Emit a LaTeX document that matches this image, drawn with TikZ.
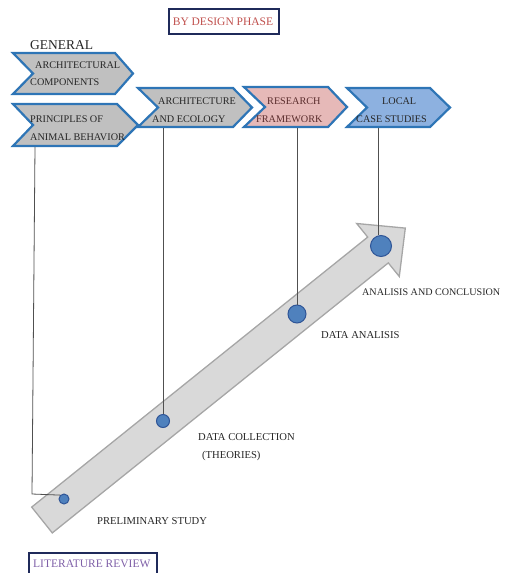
\documentclass[tikz,border=0pt]{standalone}
\usepackage{fontspec}
\setmainfont{Liberation Serif}
\definecolor{chevblue}{HTML}{2E75B6}
\definecolor{chevgray}{HTML}{C0C0C0}
\definecolor{chevpink}{HTML}{E6B9B8}
\definecolor{chevlblue}{HTML}{8DB1E0}
\definecolor{arrfill}{HTML}{D9D9D9}
\definecolor{arredge}{HTML}{A6A6A6}
\definecolor{dotblue}{HTML}{4F81BD}
\definecolor{dotedge}{HTML}{2F5597}
\definecolor{linegray}{HTML}{505050}
\definecolor{txt}{HTML}{262626}
\definecolor{navy}{HTML}{1F2A5A}
\definecolor{titlered}{HTML}{C0504D}
\definecolor{litpurple}{HTML}{7F60A8}
\definecolor{resred}{HTML}{5A2C2C}
\begin{document}
\begin{tikzpicture}[x=1pt,y=-1pt,
  chev/.style={draw=chevblue, line width=2.2pt, line join=miter},
  lbl/.style={font=\fontsize{10.2}{12}\selectfont, text=txt, inner sep=0pt, anchor=west},
  stage/.style={font=\fontsize{10.6}{12}\selectfont, text=txt, inner sep=0pt, anchor=west},
  dotnode/.style={circle, fill=dotblue, draw=dotedge, line width=1pt, inner sep=0pt},
  conn/.style={draw=linegray, line width=0.8pt},
  titlebox/.style={draw=navy, line width=1.8pt, inner sep=0pt},
  boxtext/.style={font=\fontsize{11.5}{13}\selectfont, inner sep=0pt}
]
\useasboundingbox (0,0) rectangle (505,573);
\clip (0,0) rectangle (505,573);

% big arrow
\draw[fill=arrfill, draw=arredge, line width=1.3pt, line join=miter]
  (31.7,507.1) -- (367.7,237.1) -- (356.7,223.5) -- (405.3,228.1)
  -- (399.3,276.5) -- (388.3,262.9) -- (52.3,532.9) -- cycle;

% title boxes
\draw[titlebox] (169,9) rectangle (279,34);
\node[boxtext, text=titlered] (title) at (223,22) {BY DESIGN PHASE};
\draw[titlebox] (29,553) rectangle (157,580);
\node[boxtext, text=litpurple, anchor=west] (lit) at (33,564) {LITERATURE REVIEW};

% GENERAL
\node[font=\fontsize{13.5}{15}\selectfont, text=txt, inner sep=0pt, anchor=west] (general) at (30,45) {GENERAL};

% chevrons
\draw[chev, fill=chevgray] (138,88) -- (233,88) -- (252,107.5) -- (233,127) -- (138,127) -- (158,107.5) -- cycle;
\draw[chev, fill=chevpink] (244,87) -- (328,87) -- (347,107) -- (328,127) -- (244,127) -- (265,107) -- cycle;
\draw[chev, fill=chevlblue] (347,88) -- (430,88) -- (450,107.5) -- (430,127) -- (347,127) -- (367,107.5) -- cycle;
\draw[chev, fill=chevgray] (13,53) -- (115,53) -- (133,73.5) -- (115,94) -- (13,94) -- (33,73.5) -- cycle;
\draw[chev, fill=chevgray] (13,104) -- (117,104) -- (138,125) -- (117,146) -- (13,146) -- (33,125) -- cycle;

% chevron texts
\node[lbl] (c1a) at (35,65) {ARCHITECTURAL};
\node[lbl] (c1b) at (30,82) {COMPONENTS};
\node[lbl] (c2a) at (30,119) {PRINCIPLES OF};
\node[lbl] (c2b) at (30,137) {ANIMAL BEHAVIOR};
\node[lbl] (c3a) at (158,101) {ARCHITECTURE};
\node[lbl] (c3b) at (152,119) {AND ECOLOGY};
\node[lbl, text=resred] (c4a) at (267,101) {RESEARCH};
\node[lbl, text=resred] (c4b) at (256,119) {FRAMEWORK};
\node[lbl] (c5a) at (382,101) {LOCAL};
\node[lbl] (c5b) at (356,119) {CASE STUDIES};

% connector anchors
\coordinate (t1) at (35,147);
\coordinate (bend1) at (32,494);
\coordinate (t2) at (163,128);
\coordinate (t3) at (297,128);
\coordinate (t4) at (378,128);

% dots
\node[dotnode, minimum size=10pt] (d1) at (64,499) {};
\node[dotnode, minimum size=13pt] (d2) at (163,421) {};
\node[dotnode, minimum size=18pt] (d3) at (297,314) {};
\node[dotnode, minimum size=21pt] (d4) at (381,246) {};

% connectors
\draw[conn] (t1) -- (bend1) -- (d1.north west);
\draw[conn] (t2) -- (d2.north);
\draw[conn] (t3) -- (d3.north);
\draw[conn] (t4) -- (t4 |- d4.north);

% stage labels
\node[stage, font=\fontsize{10.1}{12}\selectfont] (s4) at (362,292) {ANALISIS AND CONCLUSION};
\node[stage] (s3) at (321,335) {DATA ANALISIS};
\node[stage] (s2a) at (198,437) {DATA COLLECTION};
\node[stage] (s2b) at (202,456) {(THEORIES)};
\node[stage] (s1) at (97,521) {PRELIMINARY STUDY};
\end{tikzpicture}
\end{document}
